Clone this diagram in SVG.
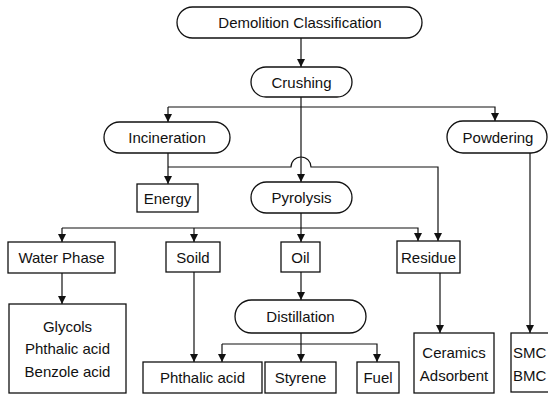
<svg xmlns="http://www.w3.org/2000/svg" width="548" height="396" viewBox="0 0 548 396">
<defs>
<marker id="ah" viewBox="0 0 10 10" refX="10" refY="5" markerWidth="8" markerHeight="8" markerUnits="userSpaceOnUse" orient="auto">
<path d="M0,0 L10,5 L0,10 Z" fill="#111"/>
</marker>
<style>
.n{fill:#fff;stroke:#111;stroke-width:1.3}
.t{font-family:"Liberation Sans",Arial,sans-serif;font-size:15px;fill:#111;text-anchor:middle}
.c{fill:none;stroke:#111;stroke-width:1.2}
</style>
</defs>
<rect width="548" height="396" fill="#fff"/>
<g id="connectors">
<path class="c" d="M301,38 V67" marker-end="url(#ah)"/>
<path class="c" d="M301,97 V182" marker-end="url(#ah)"/>
<path class="c" d="M168,107 H495 V121" marker-end="url(#ah)"/>
<path class="c" d="M168,107 V122" marker-end="url(#ah)"/>
<path class="c" d="M168,153 V184" marker-end="url(#ah)"/>
<path class="c" d="M168,167 H291 A10,10 0 0 1 311,167 H438 V241" marker-end="url(#ah)"/>
<path class="c" d="M530,153 V333" marker-end="url(#ah)"/>
<path class="c" d="M301,213 V228"/>
<path class="c" d="M62,228 H418 V241" marker-end="url(#ah)"/>
<path class="c" d="M62,228 V242" marker-end="url(#ah)"/>
<path class="c" d="M194,228 V242" marker-end="url(#ah)"/>
<path class="c" d="M301,228 V242" marker-end="url(#ah)"/>
<path class="c" d="M62,273 V304" marker-end="url(#ah)"/>
<path class="c" d="M194,272 V362" marker-end="url(#ah)"/>
<path class="c" d="M301,272 V300" marker-end="url(#ah)"/>
<path class="c" d="M301,333 V362" marker-end="url(#ah)"/>
<path class="c" d="M222,344 H377 V362" marker-end="url(#ah)"/>
<path class="c" d="M222,344 V362" marker-end="url(#ah)"/>
<path class="c" d="M440,273 V333" marker-end="url(#ah)"/>
</g>
<g id="demolition"><rect class="n" x="177" y="7" width="245" height="31" rx="15.5"/><text class="t" x="300" y="28">Demolition Classification</text></g>
<g id="crushing"><rect class="n" x="251" y="67" width="101" height="30" rx="15"/><text class="t" x="301.5" y="87.5">Crushing</text></g>
<g id="incineration"><rect class="n" x="104" y="122" width="126" height="31" rx="15.5"/><text class="t" x="167" y="143">Incineration</text></g>
<g id="powdering"><rect class="n" x="447" y="121" width="100" height="32" rx="16"/><text class="t" x="498" y="142.5">Powdering</text></g>
<g id="energy"><rect class="n" x="137" y="184" width="61" height="28"/><text class="t" x="167.5" y="203.5">Energy</text></g>
<g id="pyrolysis"><rect class="n" x="251" y="182" width="101" height="31" rx="15.5"/><text class="t" x="301.5" y="203">Pyrolysis</text></g>
<g id="water-phase"><rect class="n" x="8" y="242" width="107" height="31"/><text class="t" x="61.5" y="263">Water Phase</text></g>
<g id="soild"><rect class="n" x="166" y="242" width="54" height="30"/><text class="t" x="193" y="262.5">Soild</text></g>
<g id="oil"><rect class="n" x="281" y="242" width="39" height="30"/><text class="t" x="300.5" y="262.5">Oil</text></g>
<g id="residue"><rect class="n" x="397" y="241" width="63" height="32"/><text class="t" x="428.5" y="262.5">Residue</text></g>
<g id="glycols"><rect class="n" x="9" y="304" width="117" height="89"/><text class="t" x="67.5" y="331.5">Glycols</text><text class="t" x="67.5" y="353.5">Phthalic acid</text><text class="t" x="67.5" y="376.5">Benzole acid</text></g>
<g id="distillation"><rect class="n" x="235" y="300" width="131" height="33" rx="16.5"/><text class="t" x="300.5" y="322">Distillation</text></g>
<g id="phthalic-acid"><rect class="n" x="143" y="362" width="119" height="31"/><text class="t" x="202.5" y="383">Phthalic acid</text></g>
<g id="styrene"><rect class="n" x="265" y="362" width="71" height="31"/><text class="t" x="300.5" y="383">Styrene</text></g>
<g id="fuel"><rect class="n" x="357" y="362" width="42" height="31"/><text class="t" x="378" y="383">Fuel</text></g>
<g id="ceramics"><rect class="n" x="414" y="333" width="80" height="60"/><text class="t" x="454" y="357.5">Ceramics</text><text class="t" x="454" y="380.5">Adsorbent</text></g>
<g id="smc"><rect class="n" x="511" y="333" width="45" height="59"/><text class="t" x="513" y="357.5" style="text-anchor:start">SMC</text><text class="t" x="513" y="380.5" style="text-anchor:start">BMC</text></g>
</svg>
